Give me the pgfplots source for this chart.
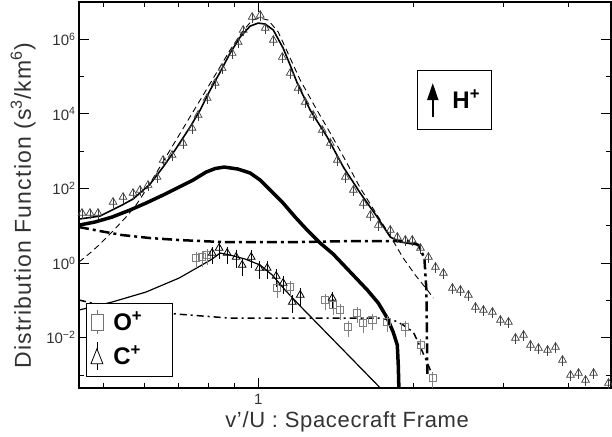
\documentclass[border=0pt]{standalone}
\usepackage{fontspec}
\setmainfont{Liberation Sans}
\usepackage{pgfplots}
\pgfplotsset{compat=1.18}
\usetikzlibrary{arrows.meta}

\begin{document}
\begin{tikzpicture}[x=1pt,y=1pt]
\path[use as bounding box] (0,0) rectangle (612,436);
\begin{axis}[
  at={(79pt,48pt)}, anchor=south west,
  width=532pt, height=386pt, scale only axis,
  xmode=log, ymode=log,
  xmin=0.4485, xmax=4.85, ymin=4.46e-4, ymax=1e7,
  xtick={1}, xticklabels={1},
  minor xtick={0.5,0.6,0.7,0.8,0.9,2,3,4},
  ytick={1e-2,1,1e2,1e4,1e6},
  yticklabels={10\textsuperscript{−2},10\textsuperscript{0},10\textsuperscript{2},10\textsuperscript{4},10\textsuperscript{6}},
  minor ytick={1e-3,1e-1,1e1,1e3,1e5},
  tick align=inside,
  major tick length=10pt, minor tick length=5pt,
  every tick/.style={black, line width=0.8pt},
  axis line style={line width=1.2pt},
  tick label style={font=\fontsize{15}{17}\selectfont, black!80},
  xticklabel style={yshift=-3pt},
  /pgf/number format/assume math mode=true,
  xlabel={v'/U : Spacecraft Frame},
  ylabel={Distribution Function (s\textsuperscript{3}/km\textsuperscript{6})},
  xlabel style={font=\fontsize{22}{24}\selectfont\addfontfeature{LetterSpace=3}, black!80,
    at={(axis description cs:0.504,0)}, anchor=base, yshift=-39pt},
  ylabel style={font=\fontsize{23}{25}\selectfont\addfontfeature{LetterSpace=5}, black!80,
    at={(axis description cs:-0.105,0.472)}, anchor=center},
  legend style={at={(rel axis cs:0.0132,0.220)}, anchor=north west,
    draw=black, line width=1pt, fill=white,
    font=\fontsize{24}{26}\selectfont\bfseries,
    row sep=7pt, inner xsep=4pt, inner ysep=6pt},
  legend cell align=left,
]

% H+ model curves
\addplot[forget plot, black, line width=1.6pt] coordinates {
(0.4485,15.1) (0.4927,18.2) (0.5437,35.9) (0.5712,52.0) (0.6165,131)
(0.6534,375) (0.6894,1.07e3) (0.7374,4.43e3) (0.7713,1.26e4) (0.8066,4.35e4)
(0.8435,1.32e5) (0.8820,4.26e5) (0.9225,1.15e6) (0.9648,2.26e6) (1,2.72e6)
(1.032,2.56e6) (1.070,1.77e6) (1.118,5.81e5) (1.154,2.03e5) (1.191,6.70e4)
(1.262,1.26e4) (1.362,2.39e3) (1.464,375) (1.579,75.3) (1.704,17.1)
(1.806,4.98) (1.890,3.66) (2.048,3.04)
};
\addplot[forget plot, black, line width=0.9pt, dash pattern=on 6pt off 4pt] coordinates {
(0.4485,1.06) (0.4711,1.85) (0.4905,3.04) (0.5200,6.78) (0.5536,17.1)
(0.5789,35.9) (0.6054,90.6) (0.6389,311) (0.6742,1.07e3) (0.7211,5.01e3)
(0.7713,2.34e4) (0.8249,1.10e5) (0.8820,5.13e5) (0.9308,1.56e6) (0.9734,3.27e6)
(1.009,3.70e6) (1.046,3.27e6) (1.094,1.56e6) (1.154,3.13e5) (1.207,8.06e4)
(1.291,1.52e4) (1.381,3.05e3) (1.477,577) (1.579,103) (1.689,23.3)
(1.806,5.29) (1.914,1.36) (2.020,0.477) (2.132,0.189) (2.191,0.115)
};
\addplot[forget plot, black, line width=3.5pt] coordinates {
(0.4485,10.4) (0.4818,12.6) (0.5200,17.1) (0.5636,26.4) (0.6054,40.6)
(0.6534,66.5) (0.7019,109) (0.7474,168) (0.7922,275) (0.8249,342)
(0.8588,375) (0.9143,331) (0.9648,259) (1.009,168) (1.055,90.6)
(1.118,40.6) (1.180,17.1) (1.245,7.67) (1.320,3.44) (1.399,1.74)
(1.510,0.574) (1.630,0.189) (1.712,0.0847) (1.782,0.0335) (1.830,0.0141)
(1.864,0.00634) (1.872,0.00184) (1.880,0.000212)
};
\addplot[forget plot, black, line width=2.5pt, dash pattern=on 10pt off 4pt on 3pt off 4pt] coordinates {
(0.4485,9.23) (0.4927,7.21) (0.5437,5.64) (0.6165,4.68) (0.7019,4.14)
(0.8511,3.66) (1.207,3.66) (1.510,3.89) (1.975,3.89) (2.048,3.04)
(2.104,1.36) (2.123,0.189) (2.132,0.00106)
};

% C+/O+ model curves
\addplot[forget plot, black, line width=1.2pt] coordinates {
(0.4485,0.0550) (0.5200,0.0900) (0.6054,0.167) (0.7019,0.396) (0.7713,0.832)
(0.8139,1.28) (0.8435,1.85) (0.8820,1.64) (0.9434,1.28) (1.009,0.884)
(1.065,0.477) (1.128,0.189) (1.207,0.0703) (1.444,0.00560) (1.735,0.000419)
};
\addplot[forget plot, black, line width=1.5pt, dash pattern=on 7pt off 4pt on 2pt off 4pt] coordinates {
(0.4485,0.102) (0.4927,0.0748) (0.5712,0.0516) (0.6926,0.0430) (0.8782,0.0335)
(1.727,0.0335) (1.847,0.0279) (1.914,0.0218) (2.002,0.0141) (2.067,0.00560)
(2.132,0.00208) (2.181,0.000993)
};

% H+ data
\addplot[forget plot, only marks, mark=triangle, mark size=4.5pt, black!75,
  mark options={line width=0.7pt},
  error bars/.cd, y dir=both, y fixed relative=0.3, error mark=none,
  error bar style={line width=0.5pt, black!75}] coordinates {
(0.4546,21.9) (0.4711,21.9) (0.4883,21.9) (0.5223,43.2) (0.5462,58.8)
(0.5712,75.3) (0.5894,90.6) (0.6109,123) (0.6361,202) (0.6534,577)
(0.6803,786) (0.7146,1.65e3) (0.7441,4.16e3) (0.7644,9.29e3) (0.7959,2.65e4)
(0.8249,6.70e4) (0.8511,1.69e5) (0.8901,4.26e5) (0.9143,8.41e5) (0.9350,1.77e6)
(0.9734,3.94e6) (1.009,4.46e6) (1.032,2.00e6) (1.070,9.52e5) (1.114,3.33e5)
(1.154,1.24e5) (1.196,4.92e4) (1.234,2.07e4) (1.279,9.29e3) (1.332,3.68e3)
(1.381,1.65e3) (1.425,577) (1.477,202) (1.531,90.6) (1.601,40.6)
(1.652,19.4) (1.712,10.4) (1.806,7.67) (1.864,4.98) (1.932,4.14)
(1.993,4.14) (2.067,2.52) (2.142,1.45) (2.211,0.782) (2.291,0.539)
(2.385,0.214) (2.472,0.189) (2.562,0.139) (2.644,0.0661) (2.740,0.0550)
(2.853,0.0486) (2.957,0.0296) (3.065,0.0262) (3.162,0.00976) (3.279,0.0117)
(3.383,0.00634) (3.506,0.00526) (3.651,0.00465) (3.784,0.00560) (3.904,0.00251)
(4.046,0.000993) (4.194,0.00112) (4.328,0.000730) (4.486,0.00112) (4.796,0.000607)
};

% O+ data
\addplot[only marks, mark=square, mark size=3.5pt, black!50,
  mark options={line width=0.7pt},
  legend image code/.code={
    \draw[black!55, line width=0.8pt] (0.3cm,-12pt) -- (0.3cm,12pt);
    \draw[black!55, fill=white, line width=0.8pt] (0.3cm,0pt) ++(-6pt,-8pt) rectangle ++(12pt,16pt);},
  error bars/.cd, y dir=both, y fixed relative=0.45, error mark=none,
  error bar style={line width=0.5pt, black!50}] coordinates {
(0.7576,1.36) (0.7782,1.45) (0.7959,1.64) (1.089,0.214) (1.154,0.227)
(1.350,0.102) (1.399,0.0748) (1.444,0.0550) (1.497,0.0192) (1.558,0.0457)
(1.601,0.0246) (1.667,0.0296) (1.782,0.0262) (1.932,0.0192) (2.067,0.00634)
(2.181,0.000826)
};
\addlegendentry{\hspace*{8pt}O\textsuperscript{+}\hspace*{24pt}}

% C+ data
\addplot[only marks, mark=triangle, mark size=4.5pt, black,
  mark options={line width=0.8pt},
  legend image code/.code={
    \draw[black, line width=0.8pt] (0.3cm,-14pt) -- (0.3cm,14pt);
    \draw[black, fill=white, line width=0.8pt] (0.3cm,7pt) -- ++(-6pt,-15pt) -- ++(12pt,0pt) -- cycle;},
  error bars/.cd, y dir=both, y fixed relative=0.5, error mark=none,
  error bar style={line width=0.6pt, black}] coordinates {
(0.8139,1.85) (0.8396,2.52) (0.8705,1.85) (0.9061,1.45) (0.9308,0.884)
(0.9692,1.45) (1.0045,0.734) (1.041,0.734) (1.084,0.448) (1.118,0.291)
(1.165,0.0900) (1.207,0.139) (1.393,0.115)
};
\addlegendentry{\hspace*{8pt}C\textsuperscript{+}}

% H+ key box
\node[draw, line width=1pt, fill=white, minimum width=74pt, minimum height=59pt]
  at (rel axis cs:0.705,0.746) {};
\draw[line width=1.8pt, -{Triangle[width=11pt,length=17pt]}]
  (rel axis cs:0.665,0.702) -- (rel axis cs:0.665,0.790);
\node[font=\fontsize{24}{26}\selectfont\bfseries, anchor=center]
  at (rel axis cs:0.728,0.748) {H\textsuperscript{+}};
\end{axis}
\end{tikzpicture}
\end{document}
